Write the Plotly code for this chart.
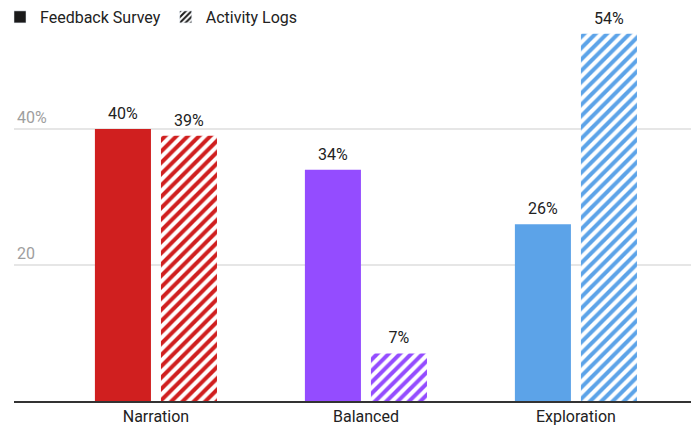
import plotly.graph_objects as go

categories = ["Narration", "Balanced", "Exploration"]
survey = [40, 34, 26]
logs = [39, 7, 54]
colors = ["#D01F1F", "#944CFF", "#5CA3E8"]
series_names = ["Feedback Survey", "Activity Logs"]
tick_vals = [20, 40]
tick_text = ["20", "40%"]

fig = go.Figure()
fig.add_trace(go.Bar(
    x=categories, y=survey, name=series_names[0], showlegend=False,
    offsetgroup="a",
    marker=dict(color=colors, line=dict(width=0)),
))
fig.add_trace(go.Bar(
    x=categories, y=logs, name=series_names[1], showlegend=False,
    offsetgroup="b",
    marker=dict(color="white", line=dict(width=0),
                pattern=dict(shape="/", fgcolor=colors, bgcolor="white",
                             size=8, solidity=0.5, fillmode="replace")),
))
# value labels
for vals, grp in ((survey, "a"), (logs, "b")):
    fig.add_trace(go.Scatter(
        x=categories, y=vals, mode="markers+text", offsetgroup=grp,
        text=[f"{v}%" for v in vals], textposition="top center",
        marker=dict(size=8, opacity=0), showlegend=False, hoverinfo="skip",
        textfont=dict(size=16, color="#222222"), cliponaxis=False,
    ))
# legend entries (black)
fig.add_trace(go.Bar(x=[None], y=[None], name=series_names[0], offsetgroup="a",
                     marker=dict(color="#1a1a1a")))
fig.add_trace(go.Bar(x=[None], y=[None], name=series_names[1], offsetgroup="b",
                     marker=dict(color="white",
                                 pattern=dict(shape="/", fgcolor="#1a1a1a", bgcolor="white",
                                              size=5, solidity=0.5, fillmode="replace"))))

fig.update_layout(
    width=691, height=429,
    margin=dict(l=14, r=0, t=27, b=28, autoexpand=False),
    paper_bgcolor="white", plot_bgcolor="white",
    font=dict(family="Roboto", size=16, color="#222222"),
    barmode="group", bargap=0.371, bargroupgap=0.1515,
    scattermode="group", scattergap=0.371,
    legend=dict(orientation="h", x=0, xref="container", xanchor="left",
                y=1, yref="container", yanchor="top",
                font=dict(size=16, color="#222222"), itemwidth=30,
                traceorder="normal"),
    xaxis=dict(range=[-0.676, 2.548], showline=True, linecolor="#333333",
               linewidth=1.5, showgrid=False, ticks="", tickfont=dict(size=16, color="#222222")),
    yaxis=dict(range=[0, 55], tickvals=tick_vals, ticktext=tick_text,
               ticklabelposition="inside top", showgrid=True, gridcolor="#e6e6e6",
               gridwidth=1.5, zeroline=False, showline=False, ticks="",
               tickfont=dict(size=16, color="#9e9e9e")),
)
fig.write_html("out.html")
